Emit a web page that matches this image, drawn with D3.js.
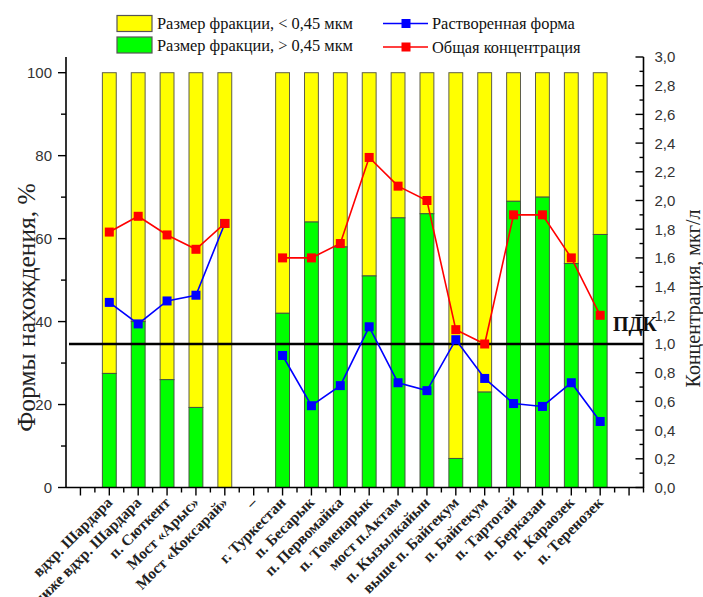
<!DOCTYPE html>
<html>
<head>
<meta charset="utf-8">
<script src="https://cdn.jsdelivr.net/npm/d3@7"></script>
<style>
  html, body { margin: 0; padding: 0; background: #fff; }
  svg { display: block; }
</style>
</head>
<body>
<svg id="chart" width="703" height="597"></svg>
<script>
// Sampling points along the river (index 0 and 19 are empty axis slots)
const categories = [
  "", "вдхр. Шардара", "ниже вдхр. Шардара", "п. Сюткент", "Мост «Арыс»", "Мост «Коксарай»",
  "–", "г. Туркестан", "п. Бесарык", "п. Первомайка", "п. Томенарык", "мост п.Актам",
  "п. Кызылкайын", "выше п. Байгекум", "п. Байгекум", "п. Тартогай", "п. Берказан",
  "п. Караозек", "п. Теренозек", ""
];
// Share of fraction > 0.45 µm, % (null = no sample)
const coarseShare = [null, 27.5, 40, 26, 19.3, 0, null, 42, 64, 58, 51, 65, 66, 7, 23, 69, 70, 54, 61, null];
// Dissolved form, µg/l
const dissolved = [null, 1.29, 1.14, 1.30, 1.34, 1.84, null, 0.92, 0.57, 0.71, 1.12, 0.73, 0.675, 1.03, 0.76, 0.585, 0.565, 0.73, 0.46, null];
// Total concentration, µg/l
const total = [null, 1.78, 1.89, 1.76, 1.66, 1.84, null, 1.60, 1.60, 1.70, 2.30, 2.10, 2.00, 1.10, 1.00, 1.90, 1.90, 1.60, 1.20, null];
const pdk = 1.0;
const leftTicks = [0, 20, 40, 60, 80, 100];
const rightTicks = d3.range(0, 3.01, 0.2).map(v => +v.toFixed(1));

const svg = d3.select("#chart");
const X0 = 66, X1 = 643.5, Y0 = 487.5, YT = 57;

const x = d3.scaleLinear().domain([-0.5, categories.length - 0.5]).range([X0, X1]);
const yL = d3.scaleLinear().domain([0, 100]).range([Y0, 72.7]);
const yR = d3.scaleLinear().domain([0, 3]).range([Y0, YT]);
const step = x(1) - x(0);
const barW = step * 0.48;

const serif = "'Liberation Serif', 'Times New Roman', serif";
const sans = "'Liberation Sans', Arial, sans-serif";

// Stacked bars: coarse fraction (green) below, fine fraction (yellow) on top
const bars = categories.map((c, i) => ({ i, g: coarseShare[i] })).filter(d => d.g !== null);
const gBars = svg.append("g");
gBars.selectAll("rect.fine").data(bars).join("rect")
  .attr("x", d => x(d.i) - barW / 2).attr("width", barW)
  .attr("y", yL(100)).attr("height", d => yL(d.g) - yL(100))
  .attr("fill", "#ffff00").attr("stroke", "#5f5f4a").attr("stroke-width", 1);
gBars.selectAll("rect.coarse").data(bars.filter(d => d.g > 0)).join("rect")
  .attr("x", d => x(d.i) - barW / 2).attr("width", barW)
  .attr("y", d => yL(d.g)).attr("height", d => yL(0) - yL(d.g))
  .attr("fill", "#00ff00").attr("stroke", "#44553f").attr("stroke-width", 1);

// PDK reference line
svg.append("line").attr("x1", X0 + 3).attr("x2", X1).attr("y1", yR(pdk)).attr("y2", yR(pdk))
  .attr("stroke", "#000").attr("stroke-width", 2.6);

// Line series on the right axis
function series(values, color) {
  const pts = values.map((v, i) => ({ i, v }));
  const line = d3.line().defined(d => d.v !== null).x(d => x(d.i)).y(d => yR(d.v));
  const g = svg.append("g");
  g.append("path").attr("d", line(pts)).attr("fill", "none").attr("stroke", color).attr("stroke-width", 1.6);
  g.selectAll("rect").data(pts.filter(d => d.v !== null)).join("rect")
    .attr("x", d => x(d.i) - 4.5).attr("y", d => yR(d.v) - 4.5)
    .attr("width", 9).attr("height", 9).attr("fill", color);
}
series(dissolved, "#0000ff");
series(total, "#ff0000");

// Left axis
const axL = svg.append("g").attr("transform", `translate(${X0},0)`);
axL.append("line").attr("y1", YT).attr("y2", Y0 + 0.5).attr("stroke", "#000").attr("stroke-width", 1.6);
axL.selectAll("line.minor").data(d3.range(10, 101, 20)).join("line")
  .attr("x1", -5).attr("x2", 0).attr("y1", d => yL(d)).attr("y2", d => yL(d))
  .attr("stroke", "#000").attr("stroke-width", 1.4);
axL.selectAll("line.major").data(leftTicks).join("line")
  .attr("x1", -8).attr("x2", 0).attr("y1", d => yL(d)).attr("y2", d => yL(d))
  .attr("stroke", "#000").attr("stroke-width", 1.4);
axL.selectAll("text").data(leftTicks).join("text")
  .attr("x", -14).attr("y", d => yL(d)).attr("dy", "0.36em")
  .attr("text-anchor", "end").attr("font-family", sans).attr("font-size", 15).attr("fill", "#333")
  .text(d => d);

// Right axis (ticks point inward)
const axR = svg.append("g").attr("transform", `translate(${X1},0)`);
axR.append("line").attr("y1", YT).attr("y2", Y0 + 0.5).attr("stroke", "#000").attr("stroke-width", 1.6);
axR.selectAll("line.minor").data(d3.range(0.1, 3, 0.2)).join("line")
  .attr("x1", -4).attr("x2", 0).attr("y1", d => yR(d)).attr("y2", d => yR(d))
  .attr("stroke", "#000").attr("stroke-width", 1.4);
axR.selectAll("line.major").data(rightTicks).join("line")
  .attr("x1", -8).attr("x2", 0).attr("y1", d => yR(d)).attr("y2", d => yR(d))
  .attr("stroke", "#000").attr("stroke-width", 1.4);
axR.selectAll("text").data(rightTicks).join("text")
  .attr("x", 11).attr("y", d => yR(d)).attr("dy", "0.36em")
  .attr("font-family", sans).attr("font-size", 15).attr("fill", "#333")
  .text(d => d3.format(".1f")(d).replace(".", ","));

// Bottom axis
const axB = svg.append("g").attr("transform", `translate(0,${Y0})`);
axB.append("line").attr("x1", X0).attr("x2", X1).attr("stroke", "#000").attr("stroke-width", 1.6);
axB.selectAll("line.major").data(d3.range(0, categories.length)).join("line")
  .attr("x1", d => x(d)).attr("x2", d => x(d)).attr("y1", 0).attr("y2", 8)
  .attr("stroke", "#000").attr("stroke-width", 1.4);
axB.selectAll("line.minor").data(d3.range(-0.5, categories.length, 1).slice(1)).join("line")
  .attr("x1", d => x(d)).attr("x2", d => x(d)).attr("y1", 0).attr("y2", 5)
  .attr("stroke", "#000").attr("stroke-width", 1.4);
axB.selectAll("text").data(categories.map((c, i) => ({ c, i })).filter(d => d.c)).join("text")
  .attr("transform", d => `translate(${x(d.i) + 4},${16}) rotate(-45)`)
  .attr("text-anchor", "end").attr("font-family", serif).attr("font-weight", "bold")
  .attr("font-size", 15.5).attr("fill", "#222")
  .text(d => d.c);

// PDK label
svg.append("text").attr("x", 613).attr("y", 331)
  .attr("font-family", serif).attr("font-weight", "bold").attr("font-size", 20).attr("fill", "#111")
  .text("ПДК");

// Axis titles
svg.append("text").attr("transform", "translate(26,307.5) rotate(-90)").attr("dy", "0.35em")
  .attr("text-anchor", "middle").attr("font-family", serif).attr("font-size", 25.5).attr("fill", "#222")
  .text("Формы нахождения, %");
svg.append("text").attr("transform", "translate(693,298.5) rotate(-90)").attr("dy", "0.35em")
  .attr("text-anchor", "middle").attr("font-family", serif).attr("font-size", 20).attr("fill", "#222")
  .text("Концентрация, мкг/л");

// Legend
const leg = svg.append("g").attr("font-family", serif).attr("font-size", 16.4).attr("fill", "#111");
[["#ffff00", "Размер фракции, < 0,45 мкм", 15.5], ["#00ff00", "Размер фракции, > 0,45 мкм", 37]].forEach(([c, t, y]) => {
  leg.append("rect").attr("x", 117).attr("y", y).attr("width", 35).attr("height", 16)
    .attr("fill", c).attr("stroke", "#555").attr("stroke-width", 1.2);
  leg.append("text").attr("x", 157).attr("y", y + 8).attr("dy", "0.35em").text(t);
});
[["#0000ff", "Растворенная форма", 23.5], ["#ff0000", "Общая концентрация", 47]].forEach(([c, t, y]) => {
  leg.append("line").attr("x1", 383).attr("x2", 428).attr("y1", y).attr("y2", y)
    .attr("stroke", c).attr("stroke-width", 1.6);
  leg.append("rect").attr("x", 401.5).attr("y", y - 4.5).attr("width", 9).attr("height", 9).attr("fill", c);
  leg.append("text").attr("x", 432).attr("y", y).attr("dy", "0.35em").text(t);
});
</script>
</body>
</html>
